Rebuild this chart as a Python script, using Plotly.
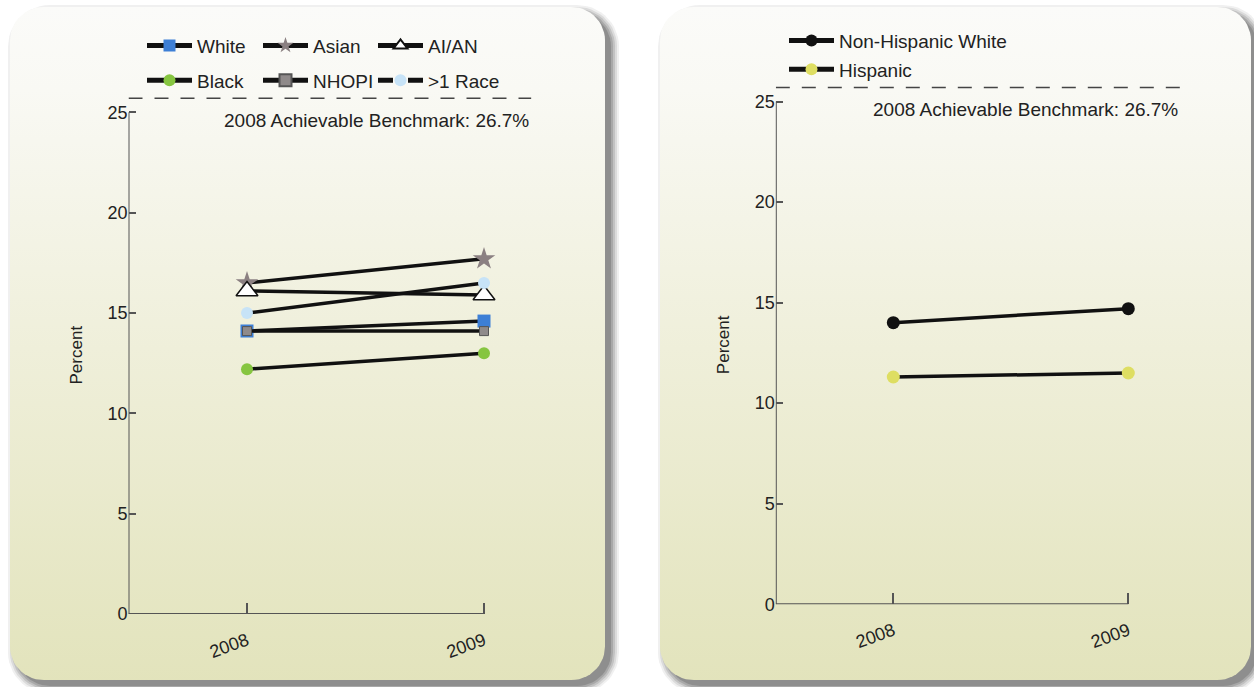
import numpy as np
import plotly.graph_objects as go

# ---------------- data ----------------
years = [2008, 2009]
year_labels = ["2008", "2009"]
y_ticks = [0, 5, 10, 15, 20, 25]

white = [14.1, 14.6]
asian = [16.5, 17.7]
aian = [16.1, 15.9]
black = [12.2, 13.0]
nhopi = [14.1, 14.1]
multi_race = [15.0, 16.5]

nh_white = [14.0, 14.7]
hispanic = [11.3, 11.5]

benchmark_value = 26.7
benchmark_text = "2008 Achievable Benchmark: 26.7%"

# ---------------- styling ----------------
FONT = "Liberation Sans"
W, H = 1254, 697
LINE_COL = "#111111"
AXIS_COL = "#555555"
BENCH_DRAW_Y = 25.7          # where the benchmark line is drawn (above the 25 tick)

fig = go.Figure()


def rounded_rect(x0, y0, x1, y1, r, n=14):
    xs, ys = [], []
    corners = [(x1 - r, y0 + r, -90, 0), (x1 - r, y1 - r, 0, 90),
               (x0 + r, y1 - r, 90, 180), (x0 + r, y0 + r, 180, 270)]
    for cx, cy, a0, a1 in corners:
        for t in np.linspace(np.radians(a0), np.radians(a1), n):
            xs.append(cx + r * np.cos(t))
            ys.append(cy + r * np.sin(t))
    xs.append(xs[0])
    ys.append(ys[0])
    return xs, ys


panels = [(10, 7, 605, 690), (660, 7, 1251, 690)]
for (x0, y0, x1, y1) in panels:
    # soft drop shadow
    for grow, a in [(0, 0.2), (2, 0.17), (4, 0.14), (6, 0.1), (8, 0.07)]:
        sx, sy = rounded_rect(x0 + 6 - grow, y0 + 6 - grow, x1 + 6 + grow, y1 + 6 + grow, 34 + grow)
        fig.add_trace(go.Scatter(x=sx, y=sy, mode="lines", fill="toself",
                                 fillcolor=f"rgba(40,40,40,{a})", line=dict(width=0),
                                 hoverinfo="skip", showlegend=False, xaxis="x", yaxis="y"))
    px_, py_ = rounded_rect(x0, y0, x1, y1, 34)
    fig.add_trace(go.Scatter(x=px_, y=py_, mode="lines", fill="toself",
                             fillgradient=dict(type="vertical", start=y0, stop=y1,
                                               colorscale=[[0, "#fbfbf9"], [0.12, "#f9f9f4"],
                                                           [0.5, "#efefda"], [1, "#e2e3bb"]]),
                             line=dict(width=0), hoverinfo="skip", showlegend=False,
                             xaxis="x", yaxis="y"))

# ---------------- left chart (race) ----------------
race_series = [
    ("White", white, dict(symbol="square", size=13, color="#3d7fd6"), "legend"),
    ("Asian", asian, dict(symbol="star", size=17, color="#8b8082"), "legend2"),
    ("AI/AN", aian, dict(symbol="triangle-up", size=19, color="white",
                         line=dict(color="#111111", width=1.5)), "legend3"),
    ("Black", black, dict(symbol="circle", size=12, color="#86c540"), "legend"),
    ("NHOPI", nhopi, dict(symbol="square", size=9, color="#8f8a8a",
                          line=dict(color="#555555", width=1)), "legend2"),
]
for name, vals, mk, lg in race_series:
    fig.add_trace(go.Scatter(x=years, y=vals, name=name, mode="lines+markers",
                             line=dict(color=LINE_COL, width=3.5), marker=mk,
                             legend=lg, legendgroup=name, xaxis="x2", yaxis="y2"))

multi_marker = dict(symbol="circle", size=12, color="#c7e3f7")
fig.add_trace(go.Scatter(x=years, y=multi_race, name=">1 Race", mode="lines+markers",
                         line=dict(color=LINE_COL, width=3.5), marker=multi_marker,
                         showlegend=False, xaxis="x2", yaxis="y2"))
# legend entry for >1 Race (dashed in the key)
fig.add_trace(go.Scatter(x=[None], y=[None], name=">1 Race", mode="lines+markers",
                         line=dict(color=LINE_COL, width=3.5, dash="dash"), marker=multi_marker,
                         legend="legend3", legendgroup=">1 Race", xaxis="x2", yaxis="y2"))

# ---------------- right chart (ethnicity) ----------------
fig.add_trace(go.Scatter(x=years, y=nh_white, name="Non-Hispanic White", mode="lines+markers",
                         line=dict(color=LINE_COL, width=3.5),
                         marker=dict(symbol="circle", size=13, color="#111111"),
                         legend="legend4", legendgroup="nhw", xaxis="x3", yaxis="y3"))
fig.add_trace(go.Scatter(x=years, y=hispanic, name="Hispanic", mode="lines+markers",
                         line=dict(color=LINE_COL, width=3.5),
                         marker=dict(symbol="circle", size=13, color="#dede62"),
                         legend="legend4", legendgroup="hisp", xaxis="x3", yaxis="y3"))

# ---------------- axes ----------------
tickfont = dict(family=FONT, size=18, color="#222222")


def y_axis(domain, anchor):
    return dict(domain=domain, anchor=anchor, range=[0, 25.8], tickvals=y_ticks,
                ticks="inside", ticklen=7, tickwidth=1.5, tickcolor=AXIS_COL,
                showgrid=False, zeroline=False, showline=False, tickfont=tickfont,
                title=dict(text="Percent", font=dict(family=FONT, size=17, color="#222222"),
                           standoff=20),
                fixedrange=True)


def x_axis(domain, anchor, xmax):
    return dict(domain=domain, anchor=anchor, range=[2007.5, xmax], tickvals=years,
                ticktext=year_labels, tickangle=-20, ticks="inside", ticklen=11,
                tickwidth=1.5, tickcolor=AXIS_COL, showgrid=False, zeroline=False,
                showline=False, tickfont=tickfont, ticklabelstandoff=12, fixedrange=True)


fig.update_layout(
    width=W, height=H, margin=dict(l=0, r=0, t=0, b=0),
    paper_bgcolor="white", plot_bgcolor="rgba(0,0,0,0)",
    xaxis=dict(domain=[0, 1], range=[0, W], visible=False, fixedrange=True),
    yaxis=dict(domain=[0, 1], range=[H, 0], visible=False, fixedrange=True),
    xaxis2=x_axis([128.5 / W, 531.4 / W], "y2", 2009.2),
    yaxis2=y_axis([1 - 623 / H, 1 - 97.7 / H], "x2"),
    xaxis3=x_axis([775.8 / W, 1180 / W], "y3", 2009.22),
    yaxis3=y_axis([1 - 613 / H, 1 - 86.7 / H], "x3"),
    showlegend=True,
)

legend_font = dict(family=FONT, size=19, color="#222222")
common_leg = dict(bgcolor="rgba(0,0,0,0)", font=legend_font, orientation="v",
                  xanchor="left", yanchor="top", tracegroupgap=7, traceorder="grouped",
                  itemwidth=45, itemsizing="constant")
fig.update_layout(
    legend=dict(x=142 / W, y=1 - 27 / H, **common_leg),
    legend2=dict(x=258 / W, y=1 - 27 / H, **common_leg),
    legend3=dict(x=373 / W, y=1 - 27 / H, **common_leg),
    legend4=dict(x=784 / W, y=1 - 22 / H, **{**common_leg, "tracegroupgap": 1}),
)

# axis lines, benchmark lines and labels
for xr, yr, xmax, ty in [("x2", "y2", 2009.2, 24.6), ("x3", "y3", 2009.22, 24.6)]:
    fig.add_shape(type="line", xref=xr, yref=yr, x0=2007.5, x1=2007.5, y0=0, y1=25,
                  line=dict(color=AXIS_COL, width=2))
    fig.add_shape(type="line", xref=xr, yref=yr, x0=2007.5, x1=2009, y0=0, y1=0,
                  line=dict(color=AXIS_COL, width=2))
    fig.add_shape(type="line", xref=xr, yref=yr, x0=2007.5, x1=xmax,
                  y0=BENCH_DRAW_Y, y1=BENCH_DRAW_Y,
                  line=dict(color="#444444", width=1.5, dash="14px,12px"))
    fig.add_annotation(xref=xr, yref=yr, x=xmax, y=ty, text=benchmark_text,
                       showarrow=False, xanchor="right", yanchor="middle",
                       font=dict(family=FONT, size=19, color="#222222"))

fig.write_html("out.html")
